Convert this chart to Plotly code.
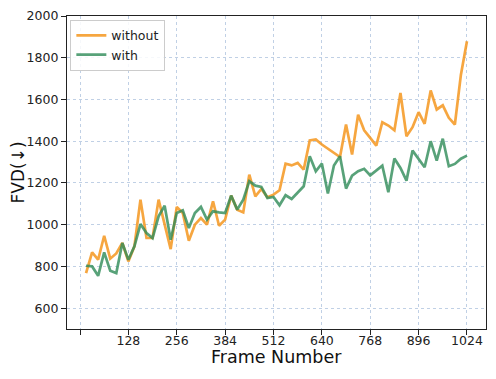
import plotly.graph_objects as go

frames = list(range(16, 1025, 16))

without = [768, 867, 832, 947, 837, 862, 912, 824, 896, 1120, 936, 936, 1120,
           1000, 883, 1085, 1056, 923, 1000, 1032, 1000, 1112, 995, 1024, 1139,
           1072, 1059, 1240, 1136, 1171, 1131, 1144, 1165, 1292, 1284, 1296,
           1264, 1404, 1408, 1384, 1363, 1344, 1324, 1480, 1336, 1527, 1452,
           1416, 1379, 1491, 1475, 1452, 1631, 1424, 1467, 1539, 1483, 1643,
           1552, 1572, 1512, 1480, 1719, 1879]

with_ = [803, 800, 755, 867, 779, 768, 912, 832, 896, 1003, 960, 936, 1040,
         1091, 928, 1056, 1069, 984, 1056, 1085, 1024, 1064, 1059, 1056, 1139,
         1072, 1120, 1208, 1187, 1181, 1128, 1133, 1093, 1141, 1123, 1155,
         1184, 1328, 1256, 1293, 1149, 1284, 1328, 1173, 1235, 1256, 1268,
         1236, 1260, 1283, 1155, 1317, 1272, 1211, 1355, 1316, 1275, 1400,
         1307, 1412, 1280, 1291, 1316, 1331]

x_ticks = [0, 128, 256, 384, 512, 640, 768, 896, 1024]
x_ticktext = ["", "128", "256", "384", "512", "640", "768", "896", "1024"]
y_ticks = [600, 800, 1000, 1200, 1400, 1600, 1800, 2000]

fig = go.Figure()
fig.add_trace(go.Scatter(x=frames, y=without, mode="lines", name="without",
                         line=dict(color="rgba(245,150,30,0.85)", width=2.7)))
fig.add_trace(go.Scatter(x=frames, y=with_, mode="lines", name="with",
                         line=dict(color="rgba(46,139,87,0.8)", width=2.7)))

axis_common = dict(
    showline=True, linecolor="#222", linewidth=1.2, mirror=True,
    ticks="outside", ticklen=5, tickcolor="#222", tickwidth=1,
    showgrid=True, gridcolor="rgba(176,196,222,0.8)", griddash="dot",
    gridwidth=1, zeroline=False, automargin=False,
    tickfont=dict(family="DejaVu Sans", size=12.5, color="#222"),
)

fig.update_xaxes(range=[-34.4, 1074.4], tickvals=x_ticks, ticktext=x_ticktext,
                 ticklabelstandoff=-5, **axis_common)
fig.update_yaxes(range=[500, 2000], tickvals=y_ticks, **axis_common)

fig.add_annotation(text="Frame Number", xref="paper", yref="paper", x=0.5, y=-0.089,
                   xanchor="center", yanchor="middle", showarrow=False,
                   font=dict(family="DejaVu Sans", size=17.5, color="#111"))
fig.add_annotation(text="FVD(↓)", xref="paper", yref="paper", x=-0.117, y=0.5,
                   xanchor="center", yanchor="middle", showarrow=False, textangle=-90,
                   font=dict(family="DejaVu Sans", size=17, color="#111"))

fig.update_layout(
    width=488, height=371,
    margin=dict(l=59, r=10, t=8, b=50),
    paper_bgcolor="white", plot_bgcolor="white",
    font=dict(family="DejaVu Sans"),
    legend=dict(x=0.008, y=0.988, xanchor="left", yanchor="top",
                bgcolor="rgba(255,255,255,0.85)", bordercolor="#ccc", borderwidth=1,
                font=dict(family="DejaVu Sans", size=12.5, color="#222"),
                tracegroupgap=0, itemwidth=30),
    showlegend=True,
)

fig.write_html("out.html")
